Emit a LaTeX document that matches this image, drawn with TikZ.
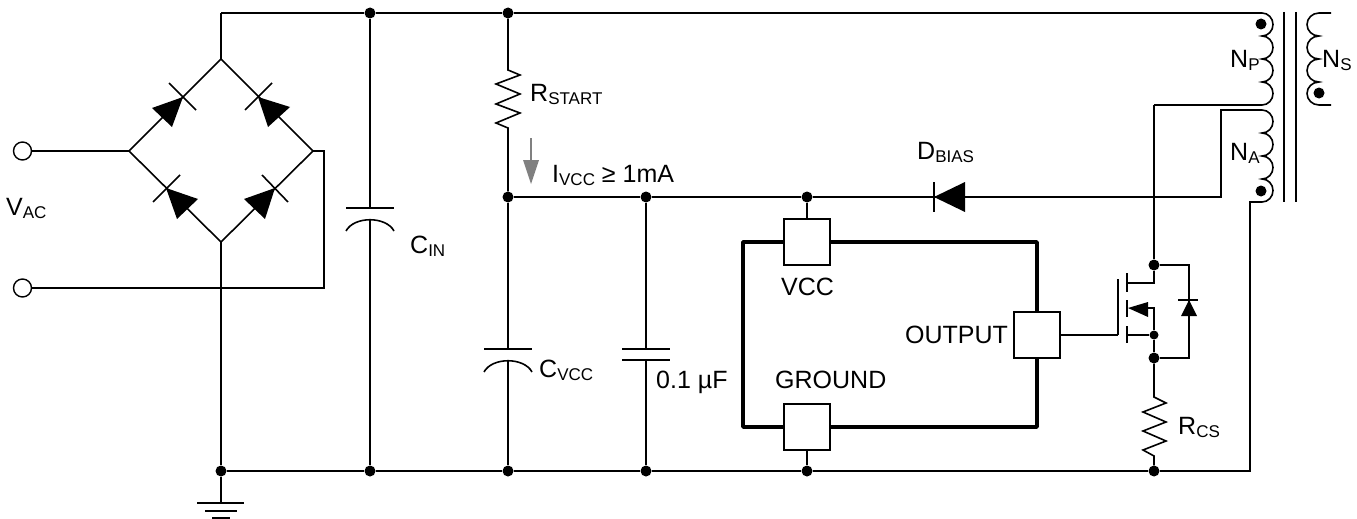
\documentclass[tikz,border=0pt]{standalone}
\usepackage{fontspec}
\usepackage{tikz}
\setmainfont{Liberation Sans}
\newcommand{\lb}[2]{#1\raisebox{-3pt}{\fontsize{17}{17}\selectfont #2}}
\begin{document}
\begin{tikzpicture}[x=1pt,y=-1pt]
	\tikzstyle{wr} = [draw,line width=1.6pt,color=black];
	\tikzstyle{th} = [draw,line width=3.8pt,color=black,line cap=round,line join=round];
	\tikzstyle{pl} = [fill=black,draw=none];
	\tikzstyle{jn} = [circle,fill=black,inner sep=0pt,minimum size=11pt];
	\tikzstyle{tm} = [circle,draw,line width=1.4pt,fill=white,inner sep=0pt,minimum size=18pt];
	\tikzstyle{pn} = [rectangle,draw,line width=1.6pt,fill=white,inner sep=0pt,minimum size=46pt];
	\tikzstyle{lbl} = [anchor=base west,inner sep=0pt,font=\fontsize{25}{25}\selectfont];
	\useasboundingbox (0,0) rectangle (1357,519);
	\coordinate (bt) at (221,59);
	\coordinate (bl) at (129,151);
	\coordinate (br) at (313,151);
	\coordinate (bb) at (221,242);
	\coordinate (bx) at (324,151);
	\coordinate (by) at (324,288);
	\coordinate (tp) at (221,13);
	\coordinate (npt) at (1262,13);
	\coordinate (npb) at (1262,105);
	\coordinate (nab) at (1262,202);
	\coordinate (nat) at (1262,110);
	\coordinate (ntp) at (1221,110);
	\coordinate (ncr) at (1221,197);
	\coordinate (drn) at (1154,105);
	\coordinate (rtn) at (1250,202);
	\coordinate (rtb) at (1250,471);
	\coordinate (gs) at (221,503);
	\node (va) at (22.5,151) [tm] {};
	\node (vb) at (22.5,288) [tm] {};
	\node (j1) at (370,13) [jn] {};
	\node (j2) at (508,13) [jn] {};
	\node (j3) at (508,197) [jn] {};
	\node (j4) at (646,197) [jn] {};
	\node (j5) at (807,197) [jn] {};
	\node (g1) at (221,471) [jn] {};
	\node (g2) at (370,471) [jn] {};
	\node (g3) at (508,471) [jn] {};
	\node (g4) at (646,471) [jn] {};
	\node (g5) at (807,471) [jn] {};
	\node (g6) at (1154,471) [jn] {};
	\node (md) at (1154,265) [jn] {};
	\node (ms) at (1154,335) [jn,minimum size=9pt] {};
	\node (mb) at (1154,358) [jn] {};
	% rails
	\path [wr] (tp) -- (j1) -- (j2) -- (npt);
	\path [wr] (g1) -- (g2) -- (g3) -- (g4) -- (g5) -- (g6) -- (rtb) -- (rtn) -- (nab);
	\path [wr] (j3) -- (j4) -- (j5) -- (ncr) -- (ntp) -- (nat);
	% bridge
	\path [wr] (tp) -- (bt);
	\path [wr] (bt) -- (bl) -- (bb) -- (br) -- cycle;
	\path [wr] (va) -- (bl);
	\path [wr] (vb) -- (by) -- (bx) -- (br);
	\path [wr] (bb) -- (g1) -- (gs);
	\path [pl] (183,97) -- (152,108) -- (172,127) -- cycle;
	\path [pl] (258,97) -- (290,107) -- (268,127) -- cycle;
	\path [pl] (166,188) -- (198,199) -- (177,219) -- cycle;
	\path [pl] (275,188) -- (244,199) -- (265,219) -- cycle;
	\path [wr] (169,83) -- (196,110);
	\path [wr] (245,110) -- (272,83);
	\path [wr] (153,202) -- (180,175);
	\path [wr] (262,175) -- (288,202);
	% ground
	\path [wr] (197,503) -- (244,503);
	\path [wr] (205,511) -- (237,511);
	\path [wr] (212,518) -- (230,518);
	% C_IN
	\path [wr] (j1) -- (370,208);
	\path [wr] (346,208) -- (394,208);
	\path [wr] (346,231) .. controls (354,216) and (386,216) .. (394,231);
	\path [wr] (370,220) -- (g2);
	% R_START
	\path [wr] (j2) -- (508,70) -- (520,75) -- (496,84) -- (520,94) -- (496,104) -- (520,113) -- (496,123) -- (508,128) -- (j3);
	\path [draw=gray,line width=1.6pt] (531,138) -- (531,162);
	\path [fill=gray] (523,160) -- (539,160) -- (531,184) -- cycle;
	% C_VCC
	\path [wr] (j3) -- (508,349);
	\path [wr] (484,349) -- (532,349);
	\path [wr] (484,372) .. controls (492,357) and (524,357) .. (532,372);
	\path [wr] (508,361) -- (g3);
	% 0.1 uF
	\path [wr] (j4) -- (646,349);
	\path [wr] (622,349) -- (670,349);
	\path [wr] (622,360) -- (670,360);
	\path [wr] (646,360) -- (g4);
	% D_BIAS
	\path [pl] (934,197) -- (965,182) -- (965,212) -- cycle;
	\path [wr] (934,182) -- (934,212);
	% IC
	\path [th] (743,242) rectangle (1037,427);
	\node (vcc) at (807,242) [pn] {};
	\node (gnd) at (807,427) [pn] {};
	\node (out) at (1037,335) [pn] {};
	\path [wr] (j5) -- (vcc);
	\path [wr] (gnd) -- (g5);
	% MOSFET
	\path [wr] (out) -- (1118,335);
	\path [wr] (1118,279) -- (1118,335);
	\path [wr] (1127,273) -- (1127,292);
	\path [wr] (1127,300) -- (1127,317);
	\path [wr] (1127,326) -- (1127,343);
	\path [wr] (drn) -- (md) -- (1154,283) -- (1127,283);
	\path [wr] (1127,335) -- (ms) -- (mb);
	\path [wr] (1148,308) -- (1154,308) -- (ms);
	\path [pl] (1128,308) -- (1148,302) -- (1148,317) -- cycle;
	\path [wr] (md) -- (1189,265) -- (1189,358) -- (mb);
	\path [pl] (1189,300) -- (1181,316) -- (1197,316) -- cycle;
	\path [wr] (1178,300) -- (1198,300);
	% R_CS
	\path [wr] (mb) -- (1154,397) -- (1166,403) -- (1143,412) -- (1166,422) -- (1143,431) -- (1166,441) -- (1143,450) -- (1154,456) -- (g6);
	% transformer
	\path [wr] (drn) -- (npb);
	\path [wr] (npt) arc [start angle=-90,end angle=90,x radius=11,y radius=11.5] arc [start angle=-90,end angle=90,x radius=11,y radius=11.5] arc [start angle=-90,end angle=90,x radius=11,y radius=11.5] arc [start angle=-90,end angle=90,x radius=11,y radius=11.5];
	\path [wr] (nat) arc [start angle=-90,end angle=90,x radius=11,y radius=11.5] arc [start angle=-90,end angle=90,x radius=11,y radius=11.5] arc [start angle=-90,end angle=90,x radius=11,y radius=11.5] arc [start angle=-90,end angle=90,x radius=11,y radius=11.5];
	\path [wr] (1331,13) -- (1319,13) arc [start angle=270,end angle=90,x radius=12,y radius=11.5] arc [start angle=270,end angle=90,x radius=12,y radius=11.5] arc [start angle=270,end angle=90,x radius=12,y radius=11.5] arc [start angle=270,end angle=90,x radius=12,y radius=11.5] -- (1331,105);
	\path [wr] (1284,12) -- (1284,202);
	\path [wr] (1296,12) -- (1296,202);
	\node (dp) at (1261,24) [jn] {};
	\node (da) at (1261,191) [jn] {};
	\node (ds) at (1319,93) [jn] {};
	% labels
	\node (lva) at (6,215) [lbl] {\lb{V}{AC}};
	\node (lcin) at (410,253) [lbl] {\lb{C}{IN}};
	\node (lrs) at (530,101) [lbl] {\lb{R}{START}};
	\node (livcc) at (552,182) [lbl] {\lb{I}{VCC} ≥ 1mA};
	\node (lcv) at (539,377) [lbl] {\lb{C}{VCC}};
	\node (lcap) at (656,388) [lbl] {0.1 µF};
	\node (ldb) at (917,159) [lbl] {\lb{D}{BIAS}};
	\node (lvcc) at (781,295) [lbl] {VCC};
	\node (lgnd) at (775,388) [lbl] {GROUND};
	\node (lout) at (905,343) [lbl] {OUTPUT};
	\node (lcs) at (1178,434) [lbl] {\lb{R}{CS}};
	\node (lnp) at (1230,67) [lbl] {\lb{N}{P}};
	\node (lna) at (1230,160) [lbl] {\lb{N}{A}};
	\node (lns) at (1322,67) [lbl] {\lb{N}{S}};
\end{tikzpicture}
\end{document}
